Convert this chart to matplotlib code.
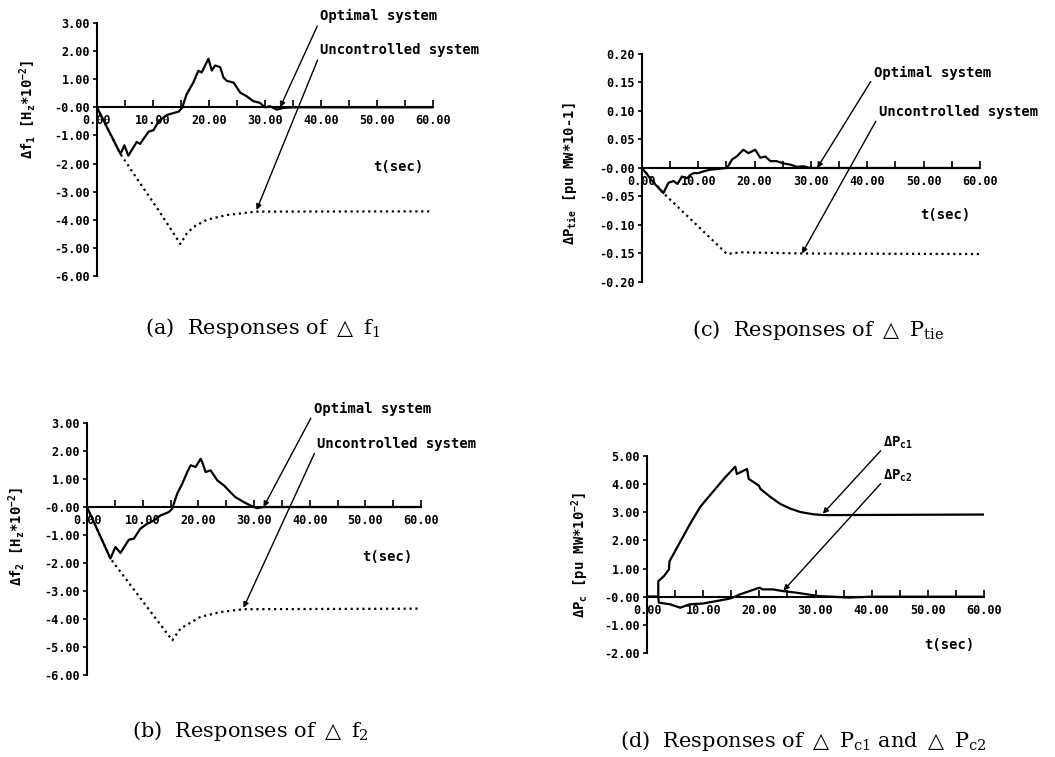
import matplotlib
matplotlib.use('Agg')
import matplotlib.pyplot as plt
from matplotlib.ticker import MultipleLocator

# ---- data ----
x_ticks = [0, 10, 20, 30, 40, 50, 60]
x_ticklabels = ['0.00', '10.00', '20.00', '30.00', '40.00', '50.00', '60.00']

f_yticks = [3, 2, 1, 0, -1, -2, -3, -4, -5, -6]
f_yticklabels = ['3.00', '2.00', '1.00', '-0.00', '-1.00', '-2.00', '-3.00',
                 '-4.00', '-5.00', '-6.00']
tie_yticks = [0.20, 0.15, 0.10, 0.05, 0, -0.05, -0.10, -0.15, -0.20]
tie_yticklabels = ['0.20', '0.15', '0.10', '0.05', '-0.00', '-0.05', '-0.10',
                   '-0.15', '-0.20']
pc_yticks = [5, 4, 3, 2, 1, 0, -1, -2]
pc_yticklabels = ['5.00', '4.00', '3.00', '2.00', '1.00', '-0.00', '-1.00', '-2.00']

# (a) delta f1
t_a_opt = [0, 4.2, 4.9, 5.6, 7.1, 7.7, 9.2, 10.1, 11.0, 12.5, 14.6, 15.2, 16.0,
           17.2, 18.1, 18.7, 19.9, 20.5, 21.1, 22.0, 22.6, 23.2, 24.4, 25.6,
           26.7, 27.9, 29.1, 30.0, 30.9, 32.1, 33.3, 35.0, 60.0]
f1_opt = [0, -1.66, -1.35, -1.72, -1.23, -1.30, -0.87, -0.81, -0.50, -0.27,
          -0.15, -0.02, 0.46, 0.88, 1.30, 1.24, 1.73, 1.31, 1.49, 1.43, 1.06,
          0.94, 0.88, 0.52, 0.40, 0.22, 0.16, 0.0, 0.04, -0.08, -0.02, 0, 0]
t_a_unc = [0, 2.0, 4.2, 7.7, 11.3, 14.9, 16.0, 17.2, 19.6, 23.2, 28.5, 60.0]
f1_unc = [0, -0.80, -1.66, -2.70, -3.75, -4.86, -4.50, -4.26, -4.00, -3.83,
          -3.71, -3.70]

# (b) delta f2
t_b_opt = [0, 4.2, 5.1, 6.0, 7.5, 8.4, 9.6, 10.8, 12.0, 13.2, 14.7, 15.3, 16.2,
           17.1, 18.0, 18.6, 19.5, 20.4, 20.7, 21.3, 22.2, 23.4, 24.6, 25.7,
           26.6, 28.1, 29.3, 30.5, 31.7, 60.0]
f2_opt = [0, -1.84, -1.43, -1.64, -1.17, -1.13, -0.77, -0.60, -0.48, -0.30,
          -0.18, -0.06, 0.48, 0.83, 1.25, 1.49, 1.43, 1.72, 1.60, 1.25, 1.31,
          0.95, 0.77, 0.54, 0.36, 0.18, 0.06, -0.04, 0, 0]
t_b_unc = [0, 4.2, 9.6, 15.3, 16.8, 20.4, 24.0, 28.1, 60.0]
f2_unc = [0, -1.84, -3.26, -4.76, -4.34, -3.92, -3.75, -3.65, -3.63]

# (c) delta P tie
t_c_opt = [0, 2.0, 3.8, 4.7, 5.6, 6.3, 7.1, 8.0, 8.6, 9.2, 10.0, 10.9, 12.1,
           15.1, 16.0, 16.8, 18.0, 18.9, 20.1, 21.0, 21.9, 22.8, 23.9, 25.1,
           26.3, 27.5, 28.7, 29.8, 60.0]
ptie_opt = [0, -0.025, -0.044, -0.026, -0.023, -0.028, -0.015, -0.018, -0.012,
            -0.009, -0.009, -0.006, -0.003, 0, 0.015, 0.020, 0.032, 0.026,
            0.032, 0.018, 0.020, 0.012, 0.012, 0.008, 0.006, 0.002, 0.003, 0, 0]
t_c_unc = [0, 3.8, 15.1, 16.5, 18.0, 28.4, 60.0]
ptie_unc = [0, -0.044, -0.151, -0.149, -0.148, -0.150, -0.151]

# (d) delta Pc1, Pc2
t_pc1 = [0, 2.0, 2.0, 3.0, 3.9, 4.0, 5.3, 7.7, 9.5, 11.9, 13.9, 15.7, 16.0,
         17.8, 18.1, 19.9, 20.2, 22.0, 23.7, 25.5, 27.3, 29.6, 31.4, 60.0]
pc1 = [0, 0, 0.55, 0.73, 0.97, 1.26, 1.73, 2.60, 3.20, 3.77, 4.24, 4.62, 4.36,
       4.54, 4.19, 3.95, 3.83, 3.54, 3.30, 3.13, 3.01, 2.93, 2.90, 2.92]
t_pc2 = [0, 2.0, 2.1, 4.1, 5.9, 7.6, 10.0, 14.7, 15.9, 16.5, 20.0, 20.6, 22.4,
         24.2, 26.7, 30.7, 33.0, 36.0, 40.0, 60.0]
pc2 = [0, 0, -0.21, -0.27, -0.39, -0.27, -0.24, -0.07, 0.02, 0.08, 0.32, 0.26,
       0.26, 0.20, 0.14, 0.02, 0.0, -0.03, 0, 0]

captions = [r'(a)  Responses of $\triangle$ f$_{\mathrm{1}}$',
            r'(c)  Responses of $\triangle$ P$_{\mathrm{tie}}$',
            r'(b)  Responses of $\triangle$ f$_{\mathrm{2}}$',
            r'(d)  Responses of $\triangle$ P$_{\mathrm{c1}}$ and $\triangle$ P$_{\mathrm{c2}}$']

plt.rcParams['font.family'] = 'DejaVu Sans Mono'
plt.rcParams['mathtext.fontset'] = 'custom'
plt.rcParams['mathtext.rm'] = 'DejaVu Sans Mono:bold'
plt.rcParams['mathtext.it'] = 'DejaVu Sans Mono:bold'
plt.rcParams['mathtext.bf'] = 'DejaVu Sans Mono:bold'

LW = 1.6
TICK_SIZE = 8.5
NOTE_SIZE = 10


def setup_axes(ax, ylim, yticks, yticklabels):
    ax.set_xlim(0, 60)
    ax.set_ylim(*ylim)
    ax.patch.set_alpha(0)
    for s in ['top', 'right']:
        ax.spines[s].set_visible(False)
    ax.spines['bottom'].set_position(('data', 0))
    ax.spines['bottom'].set_linewidth(1.5)
    ax.spines['left'].set_linewidth(1.5)
    ax.set_xticks(x_ticks)
    ax.set_xticklabels(x_ticklabels, fontweight='bold')
    ax.xaxis.set_minor_locator(MultipleLocator(5))
    ax.tick_params(axis='x', which='both', direction='in', length=5, width=1.2,
                   pad=5, labelsize=TICK_SIZE)
    ax.set_yticks(yticks)
    ax.set_yticklabels(yticklabels, fontweight='bold')
    ax.tick_params(axis='y', direction='out', length=3, width=1.2, pad=2,
                   labelsize=TICK_SIZE)


def note(ax, text, xy, xytext):
    ax.annotate(text, xy=xy, xytext=xytext, ha='left', va='center',
                fontsize=NOTE_SIZE, fontweight='bold', annotation_clip=False,
                arrowprops=dict(arrowstyle='-|>', color='black', lw=1.0,
                                mutation_scale=8, shrinkA=0, shrinkB=0,
                                relpos=(0, 0.2)))


def tlabel(ax, x, y):
    ax.text(x, y, 't(sec)', ha='center', va='center', fontsize=NOTE_SIZE,
            fontweight='bold')


def ylabel(x, y, text):
    fig.text(x, y, text, rotation=90, ha='center', va='center',
             fontsize=NOTE_SIZE, fontweight='bold')


fig = plt.figure(figsize=(10.55, 7.57), dpi=100)

# (a)
ax = fig.add_axes([0.0919, 0.6354, 0.3185, 0.3342])
setup_axes(ax, (-6, 3), f_yticks, f_yticklabels)
ax.plot(t_a_opt, f1_opt, '-', color='black', lw=LW)
ax.plot(t_a_unc, f1_unc, ':', color='black', lw=LW)
note(ax, 'Optimal system', (32.7, 0.0), (39.8, 3.24))
note(ax, 'Uncontrolled system', (28.5, -3.65), (39.8, 2.03))
tlabel(ax, 53.8, -2.14)
ylabel(0.0265, 0.855, r'Δf$_1$ [H$_z$*10$^{-2}$]')

# (c)
ax = fig.add_axes([0.6085, 0.6275, 0.3204, 0.3012])
setup_axes(ax, (-0.2, 0.2), tie_yticks, tie_yticklabels)
ax.plot(t_c_opt, ptie_opt, '-', color='black', lw=LW)
ax.plot(t_c_unc, ptie_unc, ':', color='black', lw=LW)
note(ax, 'Optimal system', (31.1, 0.0), (41.1, 0.167))
note(ax, 'Uncontrolled system', (28.4, -0.150), (42.0, 0.098))
tlabel(ax, 53.8, -0.082)
ylabel(0.540, 0.771, r'ΔP$_{tie}$ [pu MW*10-1]')

# (b)
ax = fig.add_axes([0.0825, 0.1083, 0.3166, 0.3329])
setup_axes(ax, (-6, 3), f_yticks, f_yticklabels)
ax.plot(t_b_opt, f2_opt, '-', color='black', lw=LW)
ax.plot(t_b_unc, f2_unc, ':', color='black', lw=LW)
note(ax, 'Optimal system', (31.7, 0.0), (40.7, 3.51))
note(ax, 'Uncontrolled system', (28.1, -3.6), (41.3, 2.26))
tlabel(ax, 53.9, -1.78)
ylabel(0.016, 0.291, r'Δf$_2$ [H$_z$*10$^{-2}$]')

# (d)
ax = fig.add_axes([0.6133, 0.1374, 0.3194, 0.2602])
setup_axes(ax, (-2, 5), pc_yticks, pc_yticklabels)
ax.plot(t_pc1, pc1, '-', color='black', lw=LW)
ax.plot(t_pc2, pc2, '-', color='black', lw=LW)
note(ax, r'ΔP$_{c1}$', (31.3, 2.95), (42.1, 5.47))
note(ax, r'ΔP$_{c2}$', (24.3, 0.22), (42.1, 4.30))
tlabel(ax, 53.9, -1.73)
ylabel(0.550, 0.267, r'ΔP$_c$ [pu MW*10$^{-2}$]')

# captions under each panel
cap = dict(ha='left', va='center', fontsize=15, family='DejaVu Serif',
           math_fontfamily='dejavuserif')
fig.text(145 / 1055, 1 - 328 / 757, captions[0], **cap)
fig.text(692 / 1055, 1 - 330 / 757, captions[1], **cap)
fig.text(132 / 1055, 1 - 731 / 757, captions[2], **cap)
fig.text(620 / 1055, 1 - 741 / 757, captions[3], **cap)

fig.savefig('out.png', dpi=100)
